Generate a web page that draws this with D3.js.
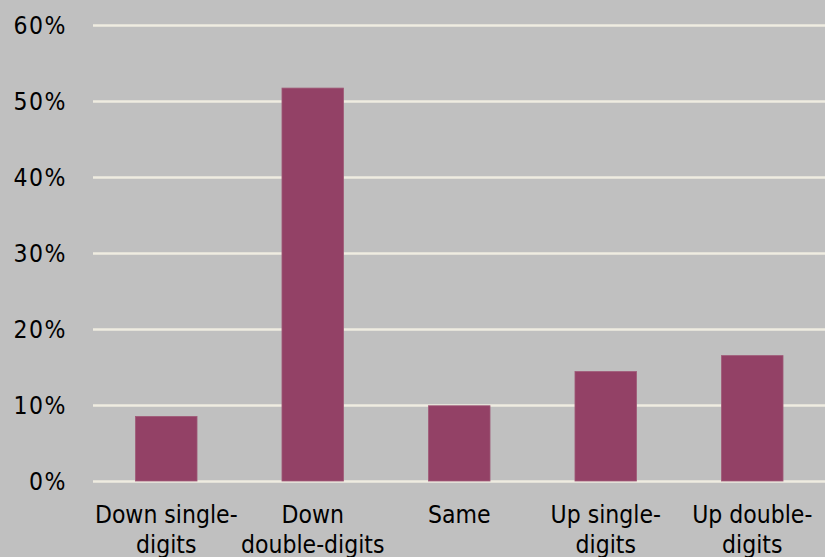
<!DOCTYPE html>
<html>
<head>
<meta charset="utf-8">
<script src="https://cdn.jsdelivr.net/npm/d3@7"></script>
<style>
  html, body { margin: 0; padding: 0; background: #c0c0c0; }
  svg { display: block; }
</style>
</head>
<body>
<svg id="chart" width="825" height="557"></svg>
<script>
const categories = ["Down single-digits", "Down double-digits", "Same", "Up single-digits", "Up double-digits"];
const tickLines = [["Down single-", "digits"], ["Down", "double-digits"], ["Same"], ["Up single-", "digits"], ["Up double-", "digits"]];
const values = [0.085, 0.517, 0.099, 0.144, 0.165];
const yTicks = [0, 0.1, 0.2, 0.3, 0.4, 0.5, 0.6];

(function () {
const W = 825, H = 557;
const mLeft = 93, mRight = 825.5, mTop = 25, mBottom = 481;

const svg = d3.select("#chart");
svg.append("rect").attr("width", W).attr("height", H).attr("fill", "#c0c0c0");

const x = d3.scaleBand().domain(categories).range([mLeft, mRight]).paddingInner(0.58).paddingOuter(0.29);
const y = d3.scaleLinear().domain([0, 0.6]).range([mBottom, mTop]);

const yAxis = d3.axisLeft(y).tickValues(yTicks).tickFormat(d3.format(".0%"))
  .tickSize(-(W - mLeft)).tickPadding(26);
const gy = svg.append("g").attr("transform", `translate(${mLeft},0)`).call(yAxis);
gy.select(".domain").remove();
gy.selectAll(".tick line").attr("stroke", "#efece1").attr("stroke-width", 2.6);
gy.selectAll(".tick text")
  .attr("fill", "#000")
  .attr("font-family", "'DejaVu Sans Condensed', 'DejaVu Sans', sans-serif")
  .attr("font-size", 24.5)
  .attr("letter-spacing", 1.5)
  .attr("dy", "0.36em");

svg.append("g").selectAll("rect").data(values).join("rect")
  .attr("x", (d, i) => x(categories[i]))
  .attr("width", x.bandwidth())
  .attr("y", d => y(d))
  .attr("height", d => y(0) - y(d))
  .attr("fill", "#934166")
  .attr("stroke", "#a05a78")
  .attr("stroke-width", 0.8);

const xAxis = d3.axisBottom(x).tickSize(0).tickPadding(0).tickFormat("");
const gx = svg.append("g").attr("transform", `translate(0,${mBottom})`).call(xAxis);
gx.select(".domain").remove();
gx.selectAll(".tick").each(function (d, i) {
  const t = d3.select(this).append("text")
    .attr("fill", "#000")
    .attr("text-anchor", "middle")
    .attr("font-family", "'DejaVu Sans Condensed', 'DejaVu Sans', sans-serif")
    .attr("font-size", 24.5)
    .attr("y", 42);
  tickLines[i].forEach((line, j) => {
    t.append("tspan").attr("x", 0).attr("dy", j === 0 ? 0 : 30).text(line);
  });
});
})();
</script>
</body>
</html>
